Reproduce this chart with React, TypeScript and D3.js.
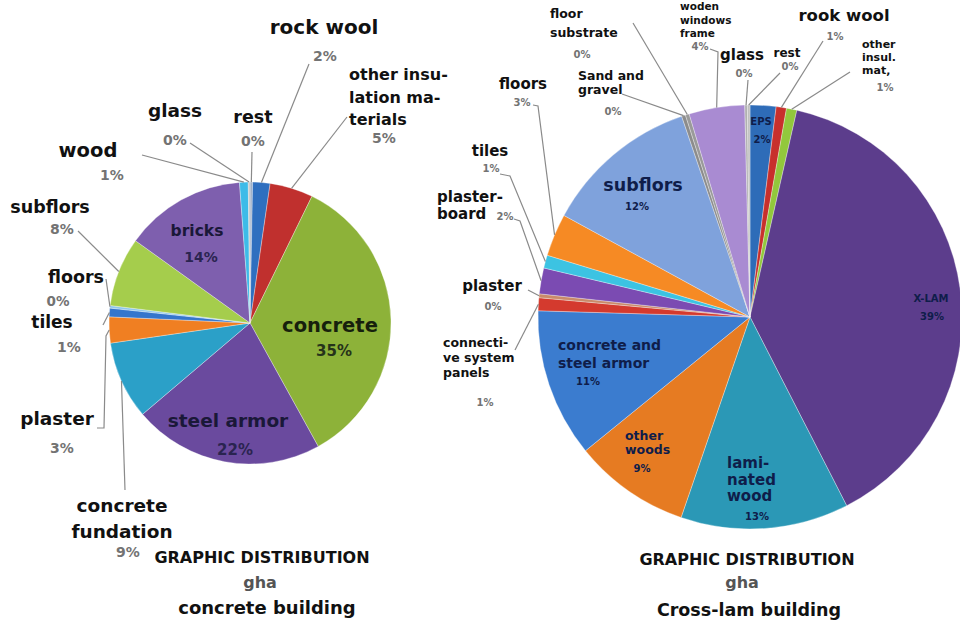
import React from "react";
import * as d3 from "d3";

// ---------- DATA ----------
const leftCategories = [
  "rest", "rock wool", "other insulation materials", "concrete", "steel armor",
  "concrete fundation", "plaster", "tiles", "floors", "subflors", "bricks", "wood", "glass",
];
const leftValues = [0.3, 2, 5, 35, 22, 9, 3, 1, 0.3, 8, 14, 1, 0.2];
const leftPercents = ["0%", "2%", "5%", "35%", "22%", "9%", "3%", "1%", "0%", "8%", "14%", "1%", "0%"];
const leftTitle = ["GRAPHIC DISTRIBUTION", "gha", "concrete building"];

const rightCategories = [
  "EPS", "rook wool", "other insul. mat,", "X-LAM", "laminated wood", "other woods",
  "concrete and steel armor", "connective system panels", "plaster", "plasterboard", "tiles",
  "floors", "subflors", "Sand and gravel", "floor substrate", "woden windows frame", "glass", "rest",
];
const rightValues = [2, 0.8, 0.8, 39.5, 13, 9, 11.5, 1, 0.3, 2, 1, 3.3, 12, 0.3, 0.3, 4.3, 0.2, 0.2];
const rightPercents = ["2%", "1%", "1%", "39%", "13%", "9%", "11%", "1%", "0%", "2%", "1%", "3%", "12%", "0%", "0%", "4%", "0%", "0%"];
const rightTitle = ["GRAPHIC DISTRIBUTION", "gha", "Cross-lam building"];

// ---------- STYLE / LAYOUT ----------
const leftColors = [
  "#9fb0c8", "#2f6fbf", "#c0302e", "#8db239", "#6a4a9e", "#2ba0c8", "#f07f22",
  "#3576cc", "#8fc8ec", "#a5cd4c", "#7e5fae", "#3dbbe8", "#c4c4c4",
];
const rightColors = [
  "#2e6cb8", "#c8302c", "#92c83c", "#5c3d8c", "#2b98b6", "#e67b22", "#3b7ccf",
  "#d43a2e", "#c98a6a", "#7b4bb2", "#3cc3e2", "#f68a24", "#7fa2dc", "#8c8c8c",
  "#9a9a9a", "#a98bd2", "#b0b0b0", "#c0c0c0",
];

type Pt = [number, number];
type LabelSpec = {
  lines: string[]; x: number; y: number; size: number; lh?: number; anchor?: "start" | "middle";
  color?: string; px: number; py: number; psize: number; pcolor?: string; leader?: Pt[];
};

const DARK = "#1a1838";
const GREY = "#737373";

const leftLayout: Record<string, LabelSpec> = {
  "rest": { lines: ["rest"], x: 253, y: 123, size: 17.5, px: 253, py: 146, psize: 14, leader: [[252, 152]] },
  "rock wool": { lines: ["rock wool"], x: 324, y: 34, size: 20, px: 325, py: 61, psize: 14, leader: [[309, 64]] },
  "other insulation materials": { lines: ["other insu-", "lation ma-", "terials"], x: 349, y: 80, lh: 22.5, size: 16, anchor: "start", px: 384, py: 143, psize: 14, leader: [[347, 117]] },
  "concrete": { lines: ["concrete"], x: 330, y: 332, size: 19.5, color: "#16200c", px: 334, py: 356, psize: 15, pcolor: "#26331a" },
  "steel armor": { lines: ["steel armor"], x: 228, y: 427, size: 18.5, color: DARK, px: 235, py: 455, psize: 15, pcolor: "#2a2450" },
  "concrete fundation": { lines: ["concrete", "fundation"], x: 122, y: 512, lh: 26, size: 18.5, px: 128, py: 557, psize: 14, leader: [[125, 490]] },
  "plaster": { lines: ["plaster"], x: 57, y: 425, size: 18.5, px: 62, py: 453, psize: 14, leader: [[97, 428], [104, 428], [106, 336]] },
  "tiles": { lines: ["tiles"], x: 52, y: 328, size: 17, px: 69, py: 352, psize: 14, leader: [[103, 325]] },
  "floors": { lines: ["floors"], x: 76, y: 283, size: 17.5, px: 58, py: 306, psize: 13.5, leader: [[106, 279]] },
  "subflors": { lines: ["subflors"], x: 50, y: 213, size: 17.5, px: 62, py: 234, psize: 14, leader: [[78, 231]] },
  "bricks": { lines: ["bricks"], x: 197, y: 236, size: 15.5, color: DARK, px: 201, py: 262, psize: 14, pcolor: "#2a2450" },
  "wood": { lines: ["wood"], x: 88, y: 157, size: 19.5, px: 112, py: 180, psize: 14, leader: [[142, 155]] },
  "glass": { lines: ["glass"], x: 175, y: 117, size: 18.5, px: 175, py: 145, psize: 14, leader: [[190, 143]] },
};

const NAVY = "#0f1d4a";
const rightLayout: Record<string, LabelSpec> = {
  "EPS": { lines: ["EPS"], x: 761, y: 125, size: 10, color: NAVY, px: 762, py: 143, psize: 10, pcolor: NAVY },
  "rook wool": { lines: ["rook wool"], x: 844, y: 21, size: 16.5, px: 835, py: 40, psize: 10, leader: [[823, 41]] },
  "other insul. mat,": { lines: ["other", "insul.", "mat,"], x: 862, y: 48, lh: 13, size: 11, anchor: "start", px: 885, py: 91, psize: 10, leader: [[850, 72]] },
  "X-LAM": { lines: ["X-LAM"], x: 931, y: 302, size: 10, color: NAVY, px: 932, py: 320, psize: 10, pcolor: NAVY },
  "laminated wood": { lines: ["lami-", "nated", "wood"], x: 727, y: 468, lh: 16.5, size: 15, anchor: "start", color: NAVY, px: 757, py: 520, psize: 10, pcolor: NAVY },
  "other woods": { lines: ["other", "woods"], x: 625, y: 440, lh: 14, size: 12.5, anchor: "start", color: NAVY, px: 642, py: 472, psize: 10, pcolor: NAVY },
  "concrete and steel armor": { lines: ["concrete and", "steel armor"], x: 558, y: 350, lh: 18, size: 14, anchor: "start", color: NAVY, px: 588, py: 385, psize: 10, pcolor: NAVY },
  "connective system panels": { lines: ["connecti-", "ve system", "panels"], x: 443, y: 347, lh: 15, size: 12.5, anchor: "start", px: 485, py: 406, psize: 10, leader: [[515, 350]] },
  "plaster": { lines: ["plaster"], x: 492, y: 291, size: 15, px: 493, py: 310, psize: 10, leader: [[528, 290]] },
  "plasterboard": { lines: ["plaster-", "board"], x: 437, y: 202, lh: 16.5, size: 15, anchor: "start", px: 505, py: 220, psize: 10, leader: [[514, 219], [520, 221]] },
  "tiles": { lines: ["tiles"], x: 490, y: 156, size: 15, px: 491, py: 172, psize: 10, leader: [[500, 174], [510, 176]] },
  "floors": { lines: ["floors"], x: 523, y: 89, size: 15, px: 522, py: 106, psize: 10, leader: [[533, 105], [538, 106]] },
  "subflors": { lines: ["subflors"], x: 643, y: 191, size: 17.5, color: NAVY, px: 637, py: 210, psize: 10, pcolor: NAVY },
  "Sand and gravel": { lines: ["Sand and", "gravel"], x: 578, y: 80, lh: 14, size: 12.5, anchor: "start", px: 613, py: 115, psize: 10, leader: [[622, 94]] },
  "floor substrate": { lines: ["floor", "substrate"], x: 550, y: 18, lh: 19, size: 12.5, anchor: "start", px: 582, py: 58, psize: 10, leader: [[633, 23]] },
  "woden windows frame": { lines: ["woden", "windows", "frame"], x: 680, y: 10, lh: 13.5, size: 10.5, anchor: "start", px: 700, py: 50, psize: 10, leader: [[710, 49], [718, 52]] },
  "glass": { lines: ["glass"], x: 742, y: 60, size: 15, px: 744, py: 77, psize: 10, leader: [[748, 80]] },
  "rest": { lines: ["rest"], x: 787, y: 57, size: 12, px: 790, py: 70, psize: 10, leader: [[780, 73]] },
};

const FONT = "'DejaVu Sans', sans-serif";

type PieProps = {
  cx: number; cy: number; r: number; cats: string[]; values: number[]; colors: string[];
  pcts: string[]; layout: Record<string, LabelSpec>; title: string[]; titleX: number[]; titleY: number[];
  titleSize: number[];
};

function Pie({ cx, cy, r, cats, values, colors, pcts, layout, title, titleX, titleY, titleSize }: PieProps) {
  const arcs = d3.pie<number>().sort(null).value((d) => d)(values);
  const arcGen = d3.arc<d3.PieArcDatum<number>>().innerRadius(0).outerRadius(r);
  const line = d3.line();
  const edge = (a: d3.PieArcDatum<number>): Pt => {
    const m = (a.startAngle + a.endAngle) / 2;
    return [cx + r * Math.sin(m), cy - r * Math.cos(m)];
  };
  return (
    <g>
      <g transform={`translate(${cx},${cy})`}>
        {arcs.map((a, i) => (
          <path key={i} d={arcGen(a) || ""} fill={colors[i]} stroke="rgba(255,255,255,0.45)" strokeWidth={0.7} />
        ))}
      </g>
      {arcs.map((a, i) => {
        const spec = layout[cats[i]];
        if (!spec || !spec.leader) return null;
        const pts: Pt[] = [...spec.leader, edge(a)];
        return <path key={"l" + i} d={line(pts) || ""} fill="none" stroke="#8a8a8a" strokeWidth={1.2} />;
      })}
      {cats.map((c, i) => {
        const s = layout[c];
        if (!s) return null;
        const anchor = s.anchor || "middle";
        return (
          <g key={"t" + i} fontFamily={FONT} fontWeight="bold">
            {s.lines.map((ln, j) => (
              <text key={j} x={s.x} y={s.y + j * (s.lh || 0)} fontSize={s.size} textAnchor={anchor} fill={s.color || "#111"}>
                {ln}
              </text>
            ))}
            <text x={s.px} y={s.py} fontSize={s.psize} textAnchor="middle" fill={s.pcolor || GREY}>
              {pcts[i]}
            </text>
          </g>
        );
      })}
      {title.map((t, i) => (
        <text key={"ti" + i} x={titleX[i]} y={titleY[i]} fontFamily={FONT} fontWeight="bold" fontSize={titleSize[i]}
          textAnchor="middle" fill={i === 1 ? "#555" : "#111"}>
          {t}
        </text>
      ))}
    </g>
  );
}

export default function App() {
  return (
    <svg width={960} height={624} style={{ position: "absolute", left: 0, top: 0, background: "#fff" }}>
      <rect width={960} height={624} fill="#fff" />
      <Pie cx={250} cy={323} r={141} cats={leftCategories} values={leftValues} colors={leftColors}
        pcts={leftPercents} layout={leftLayout} title={leftTitle}
        titleX={[262, 260, 267]} titleY={[563, 588, 614]} titleSize={[16, 16, 18]} />
      <Pie cx={750} cy={317} r={212} cats={rightCategories} values={rightValues} colors={rightColors}
        pcts={rightPercents} layout={rightLayout} title={rightTitle}
        titleX={[747, 742, 749]} titleY={[565, 588, 616]} titleSize={[16, 16, 17.5]} />
    </svg>
  );
}
